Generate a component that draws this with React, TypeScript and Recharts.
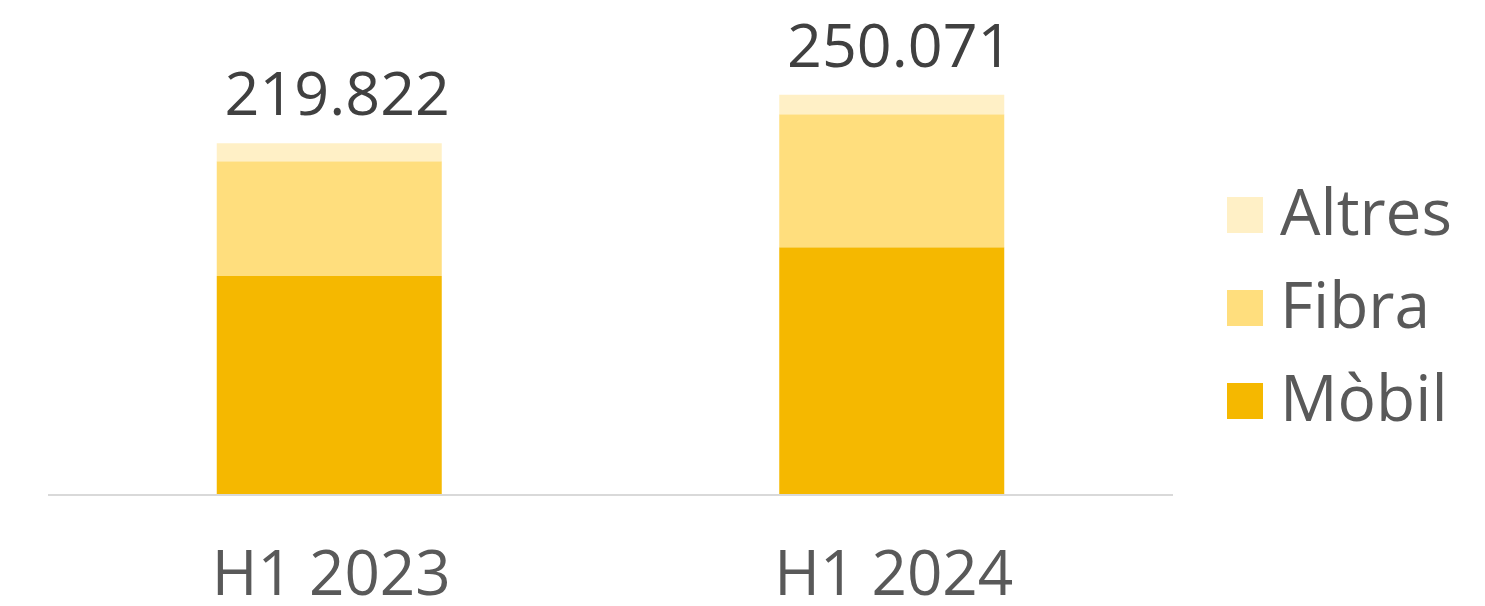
import React from 'react';
import { BarChart, Bar, XAxis, YAxis, LabelList } from 'recharts';

// periods and values (thousands)
const periods = ['H1 2023', 'H1 2024'];
const mobil = [136.8, 154.8];
const fibra = [71.8, 83.1];
const altres = [11.2, 12.2];
const totals = ['219.822', '250.071'];

const COLORS = { mobil: '#F5B800', fibra: '#FFDE7D', altres: '#FFF0C6' };
const FONT = '"Open Sans", sans-serif';

// legend, top to bottom
const legendItems = [
  { name: 'Altres', color: COLORS.altres },
  { name: 'Fibra', color: COLORS.fibra },
  { name: 'Mòbil', color: COLORS.mobil },
];

const data = periods.map((p, i) => ({
  period: p,
  mobil: mobil[i],
  fibra: fibra[i],
  altres: altres[i],
  total: totals[i],
}));

const PeriodTick = (props: any) => {
  const { x, y, payload } = props;
  return (
    <text x={x + 2} y={y + 100} textAnchor="middle" fontFamily={FONT} fontSize={62} fill="#595959">
      {payload.value}
    </text>
  );
};

const TotalLabel = (props: any) => {
  const { x, y, width, index } = props;
  return (
    <text x={x + width / 2 + 8} y={y - 28} textAnchor="middle" fontFamily={FONT} fontSize={61} fill="#404040">
      {totals[index]}
    </text>
  );
};

const SideLegend = () => (
  <g transform="translate(1227, 190)">
    {legendItems.map((item, i) => (
      <g key={item.name} transform={`translate(0, ${i * 93})`}>
        <rect x={0} y={7} width={36} height={36} fill={item.color} />
        <text x={53} y={45} fontFamily={FONT} fontSize={64} fill="#595959">
          {item.name}
        </text>
      </g>
    ))}
  </g>
);

export default function App() {
  return (
    <div style={{ position: 'absolute', left: 0, top: 0 }}>
      <BarChart
        width={1485}
        height={606}
        data={data}
        margin={{ top: 15, right: 312, left: 48, bottom: 0 }}
        barCategoryGap="30%"
      >
        <XAxis
          dataKey="period"
          height={111}
          tickLine={false}
          tickSize={0}
          tickMargin={0}
          axisLine={{ stroke: '#D9D9D9', strokeWidth: 2 }}
          tick={<PeriodTick />}
        />
        <YAxis hide domain={[0, 300]} />
        <Bar dataKey="mobil" name="Mòbil" stackId="a" fill={COLORS.mobil} isAnimationActive={false} />
        <Bar dataKey="fibra" name="Fibra" stackId="a" fill={COLORS.fibra} isAnimationActive={false} />
        <Bar dataKey="altres" name="Altres" stackId="a" fill={COLORS.altres} isAnimationActive={false}>
          <LabelList dataKey="total" content={<TotalLabel />} />
        </Bar>
        <SideLegend />
      </BarChart>
    </div>
  );
}
